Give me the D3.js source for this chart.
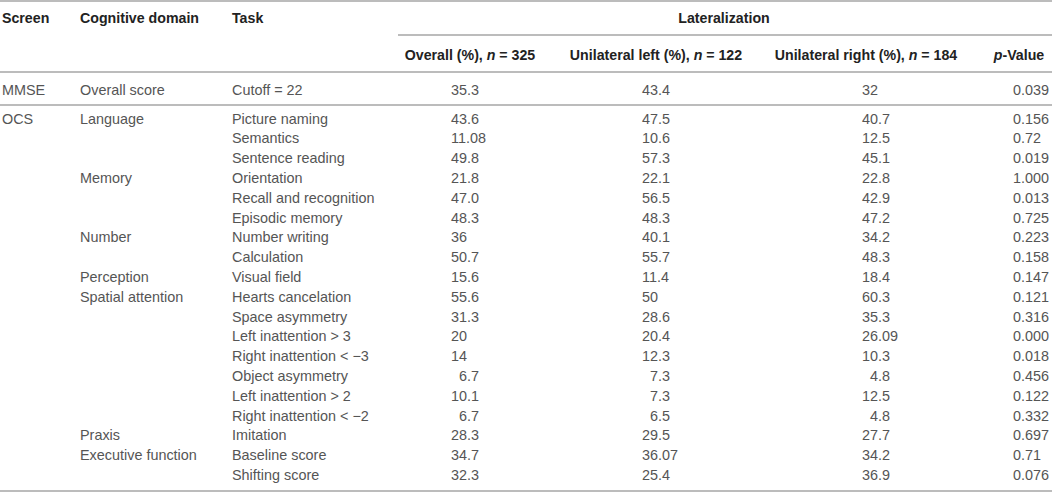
<!DOCTYPE html>
<html>
<head>
<meta charset="utf-8">
<script src="https://cdn.jsdelivr.net/npm/d3@7"></script>
<style>
  body { margin: 0; background: #fff; }
  text { font-family: "Liberation Sans", Arial, sans-serif; font-size: 14px; }
  .head { font-weight: bold; fill: #222; font-size: 14.2px; }
  .cell { fill: #555; font-size: 14.4px; }
  .rule { stroke: #a6a6a6; stroke-width: 1.5; }
</style>
</head>
<body>
<div id="chart-area"></div>
<script>
const screens = ["MMSE", "OCS", "OCS", "OCS", "OCS", "OCS", "OCS", "OCS", "OCS", "OCS", "OCS",
	"OCS", "OCS", "OCS", "OCS", "OCS", "OCS", "OCS", "OCS", "OCS"];
const domains = ["Overall score", "Language", "Language", "Language", "Memory", "Memory", "Memory",
	"Number", "Number", "Perception", "Spatial attention", "Spatial attention", "Spatial attention",
	"Spatial attention", "Spatial attention", "Spatial attention", "Spatial attention", "Praxis",
	"Executive function", "Executive function"];
const tasks = ["Cutoff = 22", "Picture naming", "Semantics", "Sentence reading", "Orientation",
	"Recall and recognition", "Episodic memory", "Number writing", "Calculation", "Visual field",
	"Hearts cancelation", "Space asymmetry", "Left inattention > 3", "Right inattention < \u22123",
	"Object asymmetry", "Left inattention > 2", "Right inattention < \u22122", "Imitation",
	"Baseline score", "Shifting score"];
const overall = ["35.3", "43.6", "11.08", "49.8", "21.8", "47.0", "48.3", "36", "50.7", "15.6",
	"55.6", "31.3", "20", "14", "6.7", "10.1", "6.7", "28.3", "34.7", "32.3"];
const unilateralLeft = ["43.4", "47.5", "10.6", "57.3", "22.1", "56.5", "48.3", "40.1", "55.7", "11.4",
	"50", "28.6", "20.4", "12.3", "7.3", "7.3", "6.5", "29.5", "36.07", "25.4"];
const unilateralRight = ["32", "40.7", "12.5", "45.1", "22.8", "42.9", "47.2", "34.2", "48.3", "18.4",
	"60.3", "35.3", "26.09", "10.3", "4.8", "12.5", "4.8", "27.7", "34.2", "36.9"];
const pValues = ["0.039", "0.156", "0.72", "0.019", "1.000", "0.013", "0.725", "0.223", "0.158", "0.147",
	"0.121", "0.316", "0.000", "0.018", "0.456", "0.122", "0.332", "0.697", "0.71", "0.076"];
const groupHeads = [
	{ label: "Overall (%), ", n: "325" },
	{ label: "Unilateral left (%), ", n: "122" },
	{ label: "Unilateral right (%), ", n: "184" }
];

const width = 1052;
const height = 493;

const svg = d3.select("#chart-area").append("svg")
	.attr("width", width)
	.attr("height", height);

// column positions: text columns start left, number columns start at a fixed x
const x = d3.scaleOrdinal()
	.domain(["screen", "domain", "task", "overall", "left", "right", "p"])
	.range([2, 80, 232, 451, 642, 862, 1005]);
const headCenter = d3.scaleOrdinal()
	.domain(["overall", "left", "right", "p"])
	.range([470, 656, 866, 1019]);

// OCS rows sit on an even grid below the MMSE row
const ocsY = d3.scaleLinear()
	.domain([0, tasks.length - 2])
	.range([118.6, 475]);
const rowY = i => i === 0 ? 90 : ocsY(i - 1);

const digitW = 8.0;
const padNum = s => /^\d\./.test(s) ? digitW : 0;

// rules
const rules = [
	{ x1: 0, x2: width, y: 1 },
	{ x1: 398, x2: width, y: 35 },
	{ x1: 0, x2: width, y: 72 },
	{ x1: 0, x2: width, y: 105 },
	{ x1: 0, x2: width, y: 491 }
];
svg.selectAll("line.rule").data(rules).enter()
	.append("line")
	.attr("class", "rule")
	.attr("x1", d => d.x1)
	.attr("x2", d => d.x2)
	.attr("y1", d => d.y)
	.attr("y2", d => d.y);

// header row 1
[["screen", "Screen"], ["domain", "Cognitive domain"], ["task", "Task"]].forEach(([k, t]) => {
	svg.append("text").attr("class", "head")
		.attr("x", x(k)).attr("y", 23).text(t);
});
svg.append("text").attr("class", "head")
	.attr("x", 724).attr("y", 23)
	.attr("text-anchor", "middle")
	.text("Lateralization");

// header row 2
["overall", "left", "right"].forEach((k, i) => {
	const t = svg.append("text").attr("class", "head")
		.attr("x", headCenter(k)).attr("y", 60)
		.attr("text-anchor", "middle");
	t.append("tspan").text(groupHeads[i].label);
	t.append("tspan").style("font-style", "italic").text("n");
	t.append("tspan").text(" = " + groupHeads[i].n);
});
const pv = svg.append("text").attr("class", "head")
	.attr("x", headCenter("p")).attr("y", 60)
	.attr("text-anchor", "middle");
pv.append("tspan").style("font-style", "italic").text("p");
pv.append("tspan").text("-Value");

// body
const rows = tasks.map((t, i) => ({
	screen: i === 0 || screens[i] !== screens[i - 1] ? screens[i] : "",
	domain: i === 0 || domains[i] !== domains[i - 1] ? domains[i] : "",
	task: t,
	overall: overall[i],
	left: unilateralLeft[i],
	right: unilateralRight[i],
	p: pValues[i]
}));

const g = svg.selectAll("g.row").data(rows).enter()
	.append("g")
	.attr("class", "row")
	.attr("transform", (d, i) => `translate(0,${rowY(i) + 5})`);

["screen", "domain", "task"].forEach(k => {
	g.append("text").attr("class", "cell")
		.attr("x", x(k))
		.text(d => d[k]);
});
["overall", "left", "right", "p"].forEach(k => {
	g.append("text").attr("class", "cell")
		.attr("x", d => x(k) + padNum(d[k]))
		.text(d => d[k]);
});
</script>
</body>
</html>
